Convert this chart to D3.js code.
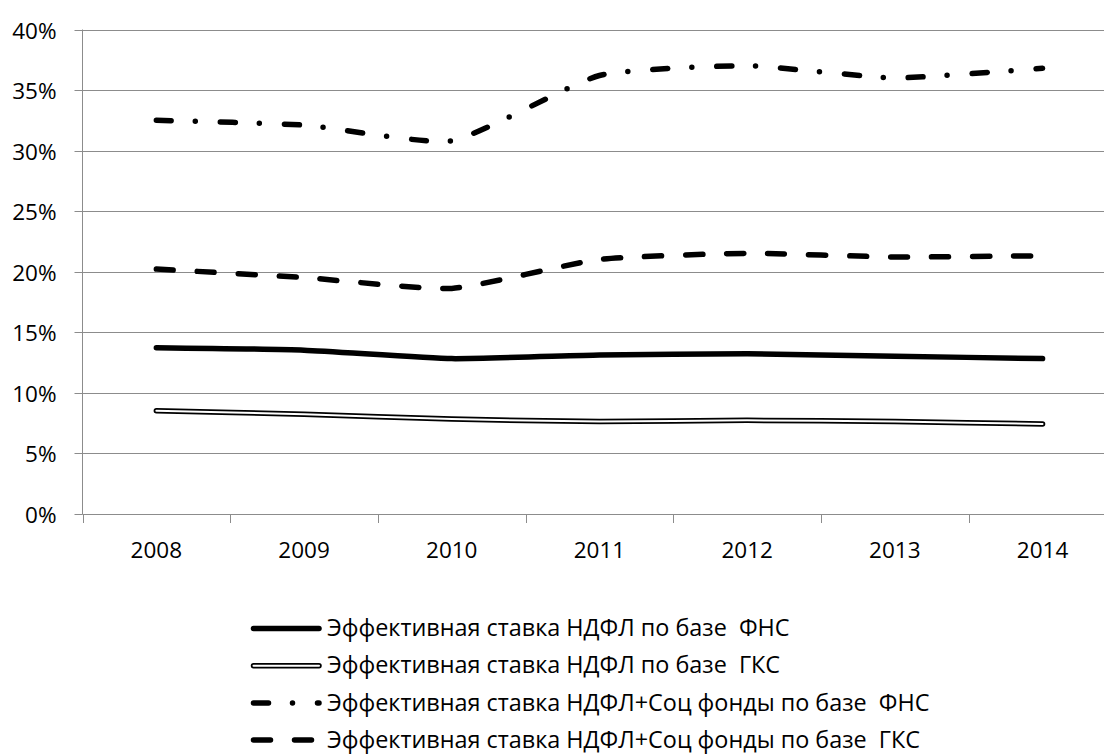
<!DOCTYPE html>
<html>
<head>
<meta charset="utf-8">
<script src="https://cdn.jsdelivr.net/npm/d3@7"></script>
<style>
  body { margin: 0; background: #fff; }
  svg text { font-family: "Open Sans", sans-serif; fill: #000; white-space: pre; }
</style>
</head>
<body>
<svg id="chart" width="1104" height="756"></svg>
<script>
// Years on the category axis
const years = ["2008", "2009", "2010", "2011", "2012", "2013", "2014"];

// Effective rates, percent
const ndflFns    = [13.7, 13.5, 12.8, 13.1, 13.2, 13.0, 12.8];
const ndflGks    = [8.5, 8.2, 7.8, 7.6, 7.7, 7.6, 7.4];
const ndflSocFns = [32.5, 32.1, 30.8, 36.2, 37.0, 36.0, 36.8];
const ndflSocGks = [20.2, 19.5, 18.6, 21.0, 21.5, 21.2, 21.3];

// Value-axis ticks, percent
const yTicks = [0, 5, 10, 15, 20, 25, 30, 35, 40];

const seriesNames = [
  "Эффективная ставка НДФЛ по базе  ФНС",
  "Эффективная ставка НДФЛ по базе  ГКС",
  "Эффективная ставка НДФЛ+Соц фонды по базе  ФНС",
  "Эффективная ставка НДФЛ+Соц фонды по базе  ГКС"
];

const svg = d3.select("#chart");
const plot = { left: 82.5, top: 29.5, bottom: 513.5, band: 147.7 };
plot.right = plot.left + plot.band * years.length;

const x = d3.scaleBand().domain(years).range([plot.left, plot.right]);
const y = d3.scaleLinear().domain([0, 40]).range([plot.bottom, plot.top]);
const cx = d => x(d) + x.bandwidth() / 2;

const gridColor = "#8c8c8c";
const axisFont = 22.5;
const legendFont = 23.4;

// Horizontal gridlines
svg.append("g")
  .selectAll("line")
  .data(yTicks)
  .join("line")
  .attr("x1", plot.left).attr("x2", plot.right)
  .attr("y1", d => Math.round(y(d)) + 0.5).attr("y2", d => Math.round(y(d)) + 0.5)
  .attr("stroke", gridColor).attr("stroke-width", 1);

// Value axis with outward ticks and percent labels
const yAxis = svg.append("g")
  .attr("transform", `translate(${plot.left},0)`)
  .call(d3.axisLeft(y).tickValues(yTicks).tickSize(8).tickPadding(18)
    .tickFormat(d => d + "%"));
yAxis.select(".domain").remove();
yAxis.selectAll(".tick line").attr("stroke", gridColor);
yAxis.selectAll(".tick").attr("transform", d => `translate(0,${Math.round(y(d)) + 0.5})`);
yAxis.selectAll("text").style("font-size", axisFont + "px").attr("dy", "0.36em");
svg.append("line")
  .attr("x1", plot.left).attr("x2", plot.left)
  .attr("y1", plot.top).attr("y2", plot.bottom + 1)
  .attr("stroke", gridColor).attr("stroke-width", 1);

// Category axis: labels at band centres, tick marks on band boundaries
const xAxis = svg.append("g")
  .attr("transform", `translate(0,${Math.round(y(0)) + 0.5})`)
  .call(d3.axisBottom(x).tickSize(0));
xAxis.select(".domain").remove();
xAxis.selectAll("text").style("font-size", axisFont + "px")
  .attr("y", 43.5).attr("dy", 0);
svg.append("g")
  .selectAll("line")
  .data(years.concat(["end"]))
  .join("line")
  .attr("x1", (d, i) => Math.round(plot.left + i * x.bandwidth()) + 0.5)
  .attr("x2", (d, i) => Math.round(plot.left + i * x.bandwidth()) + 0.5)
  .attr("y1", Math.round(y(0))).attr("y2", Math.round(y(0)) + 9)
  .attr("stroke", gridColor).attr("stroke-width", 1);

// Series lines (smoothed)
const line = d3.line()
  .x((d, i) => cx(years[i]))
  .y(d => y(d))
  .curve(d3.curveCardinal.tension(0.5));

const series = [
  { values: ndflFns,    style: "solid" },
  { values: ndflGks,    style: "double" },
  { values: ndflSocFns, style: "dashdot" },
  { values: ndflSocGks, style: "dash" }
];

const strokeW = 5.5;
function drawStroke(g, pathD, style) {
  const base = p => p.attr("d", pathD).attr("fill", "none")
    .attr("stroke-linecap", "round").attr("stroke-linejoin", "round");
  if (style === "double") {
    g.append("path").call(base).attr("stroke", "#000").attr("stroke-width", strokeW);
    g.append("path").call(base).attr("stroke", "#fff").attr("stroke-width", 2);
  } else {
    const p = g.append("path").call(base).attr("stroke", "#000").attr("stroke-width", strokeW);
    if (style === "dashdot") p.attr("stroke-dasharray", "15,24,0,25");
    if (style === "dash") p.attr("stroke-dasharray", "17,24");
  }
}

const linesG = svg.append("g");
series.forEach(s => drawStroke(linesG.append("g"), line(s.values), s.style));

// Legend
const legend = svg.append("g");
const legendX0 = 253.5, legendX1 = 319, legendTextX = 327, legendY0 = 628.5, legendStep = 37.2;
series.forEach((s, i) => {
  const ly = legendY0 + i * legendStep;
  const g = legend.append("g");
  drawStroke(g, `M${legendX0},${ly}H${legendX1}`, s.style);
  g.append("text")
    .attr("x", legendTextX).attr("y", ly).attr("dy", "0.33em")
    .style("font-size", legendFont + "px")
    .text(seriesNames[i]);
});
</script>
</body>
</html>
